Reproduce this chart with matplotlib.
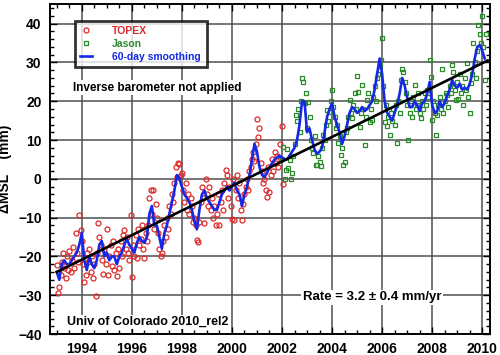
import numpy as np
import matplotlib
matplotlib.use("Agg")
import matplotlib.pyplot as plt
from matplotlib.ticker import MultipleLocator

# TOPEX samples, every 0.05 yr from 1993.0
topex_start = 1993.0
topex_step = 0.05
topex_mm = [
    -22.2, -29.5, -28, -24.8, -21.4, -19.2, -23, -25.5, -20, -23.5,
    -18.5, -24, -21, -17.5, -23, -14, -19, -21.5, -9.4, -13.2,
    -16, -22, -26.5, -24.8, -19, -21.5, -18, -24, -20, -25.5,
    -22, -30.3, -19, -11.5, -15, -17, -21, -24.4, -18, -22,
    -12.8, -24.8, -20, -17, -22.5, -16, -23.5, -19, -25, -18,
    -23, -16, -20, -14.5, -13.2, -18, -15, -19, -21, -9.4,
    -25.2, -17, -20, -14.5, -20.5, -13, -17, -15.5, -12, -18,
    -20.5, -14, -16, -12, -5, -3, -9, -3, -13, -6.4,
    -10, -14, -18, -20, -19, -16, -12, -15, -10, -13,
    -7, -9, -4, -6, -1, 3, 0.5, 4, 3.9, 1,
    1.5, -3, -6, -1, -8, -4, -9, -5, -7, -11,
    -10, -12, -15.8, -16.2, -11, -6, -2, -5, -11.5, 0,
    -4, -7, -2, -8, -5, -10, -7, -12, -9, -4,
    -12, -6, -3, -8, -1, 2.2, 0.9, -5, -2, -7,
    -10.3, 0, -10.7, -3, 1, -5, -1, -8, -10.7, -6.4,
    -4, -2, 0, -3, 2, 3, 5, 7, 4.7, 9,
    15.5, 10.7, 13, 4, 2, -1, 0, -3, -4.7, 3,
    -3.5, 1, 5, 2, 7, 4, 6, 3, 9, 5,
    13.5, -1.3,
]

# Jason samples, every 0.05 yr from 2002.0
jason_start = 2002.0
jason_step = 0.05
jason_mm = [
    5, 8.3, 0, 2.3, 7.7, 2.7, 4.9, 0, 1.5, 6,
    9, 16.5, 15, 18, 12, 20, 26, 25, 19.5, 22,
    13, 19.7, 16, 10, 8, 6.6, 11, 3.5, 3.6, 6,
    4.4, 3.4, 8, 11.3, 10, 14, 17.7, 15, 17.3, 20,
    23, 18.6, 16, 13, 14, 9.2, 11, 6.2, 7.9, 3.6,
    4.3, 12, 13, 16, 20.3, 17, 15.6, 19, 22, 18,
    26.5, 22.5, 13.4, 17, 24.2, 18, 8.7, 16, 20.3, 22.2,
    14.7, 18, 15.2, 21, 23.9, 20, 25.9, 27, 29, 30.6,
    36.2, 24, 14.7, 19, 13.5, 16, 11.3, 17, 15, 18,
    14, 19, 9.2, 20, 16.9, 25.5, 28.4, 27.6, 25, 22,
    19, 10, 17, 20, 16, 21, 24.2, 18, 19, 22,
    16.9, 15.6, 20, 18, 22, 19, 23, 21, 30.6, 26.3,
    15.2, 20, 17, 11.3, 16.5, 19, 21, 18, 28.2, 17,
    20, 22, 21.6, 18.6, 24, 22, 29.3, 27.6, 23, 20.3,
    25, 20.7, 27, 22, 24, 19, 26, 23, 29.9, 21.2,
    17, 24.6, 27, 34.9, 30, 25.9, 33, 39.6, 37.4, 35,
    41.9, 34, 25.5, 37.4,
]

# 60-day smoothed curve, every 0.1 yr from 1993.0
smooth_start = 1993.0
smooth_step = 0.1
smooth_mm = [
    -24, -26, -22, -21, -22, -22, -21, -20, -19, -17,
    -14, -21, -23.5, -20, -22, -23, -21, -17, -16, -20,
    -19, -21, -20, -20, -22, -20, -19, -17, -15.5, -17,
    -18, -19, -16.5, -15, -16, -16.5, -15, -9, -7, -12,
    -12, -15, -18, -14, -12, -9, -6, -3, 1, 0,
    -2, -4, -5, -6, -8, -11, -13, -8, -4, -3,
    -5, -6, -7, -8, -8, -6, -4, -3, -2, -3,
    -2, -1, -3, -4, -7, -4, -2, 1, 5, 9,
    7, 3, 1, 0.5, 1.5, 3, 4, 5, 5.5, 6,
    5.5, 5, 5, 6, 7, 8, 10, 14, 20, 20,
    12, 13, 10, 7.5, 6.5, 7, 8, 12, 16, 18,
    19.5, 16, 14, 12, 9, 11, 14, 17, 18.5, 18,
    17, 17.5, 18.5, 17.5, 18, 19, 20, 23, 27, 31,
    27, 20, 17, 16, 15, 17, 19, 22, 26, 24,
    21, 18.5, 18.5, 20, 19, 17.5, 19.5, 20, 22, 25,
    19, 17, 17.5, 20, 18.5, 19.5, 21.5, 23, 25.5, 24,
    23.5, 24.5, 23, 23.5, 23, 24.5, 27, 31, 34, 34.5,
    33, 31,
]

# linear trend end points
trend_years = [1993.0, 2010.22]
trend_mm = [-24.0, 30.5]

year_ticks = [1994, 1996, 1998, 2000, 2002, 2004, 2006, 2008, 2010]

plt.rcParams['font.family'] = ['Liberation Sans', 'DejaVu Sans']
plt.rcParams['font.weight'] = 'bold'

fig = plt.figure(figsize=(5.0, 3.55), dpi=100)
ax = fig.add_axes([0.10, 0.059, 0.88, 0.929])

t_topex = topex_start + topex_step * np.arange(len(topex_mm))
t_jason = jason_start + jason_step * np.arange(len(jason_mm))
t_smooth = smooth_start + smooth_step * np.arange(len(smooth_mm))

ax.plot(t_topex, topex_mm, 'o', ms=3.6, mfc='none', mec='#dd2a2a', mew=0.9,
        label='TOPEX', zorder=3)
ax.plot(t_jason, jason_mm, 's', ms=3.3, mfc='none', mec='#2a8a2a', mew=0.9,
        label='Jason', zorder=3)
ax.plot(t_smooth, smooth_mm, '-', color='#1428e6', lw=1.9,
        label='60-day smoothing', zorder=4)
ax.plot(trend_years, trend_mm, '-', color='black', lw=1.9, zorder=5)

ax.set_xlim(1992.73, 2010.31)
ax.set_ylim(-40, 45)
ax.set_xticks(year_ticks)
ax.set_yticks(np.arange(-40, 41, 10))
ax.xaxis.set_minor_locator(MultipleLocator(0.5))
ax.yaxis.set_minor_locator(MultipleLocator(2))
ax.tick_params(which='both', direction='in', top=True, right=True,
               labelsize=10, width=1.0, color='black')
ax.tick_params(which='major', length=5, pad=6)
ax.tick_params(which='minor', length=3)
ax.grid(True, which='major', color='#505050', lw=1.1)
ax.set_axisbelow(True)
for s in ax.spines.values():
    s.set_linewidth(1.4)

ax.set_ylabel('ΔMSL    (mm)', fontsize=10, fontweight='bold', labelpad=4)

leg = ax.legend(loc='upper left', bbox_to_anchor=(0.057, 0.807, 0.30, 0.142),
                mode='expand', fontsize=7.5, frameon=True, fancybox=False,
                handlelength=1.2, handletextpad=1.9, labelspacing=0.3,
                borderpad=0.45, borderaxespad=0.0)
leg.get_frame().set_edgecolor('black')
leg.get_frame().set_linewidth(2.0)
for txt, col in zip(leg.get_texts(), ['#dd2a2a', '#2a8a2a', '#1428e6']):
    txt.set_color(col)
    txt.set_fontweight('bold')

box = dict(facecolor='white', edgecolor='none', pad=1.0)
ax.text(1997.0, 23.5, 'Inverse barometer not applied', ha='center', va='center',
        fontsize=8.5, fontweight='bold', bbox=box, zorder=6)
ax.text(1993.41, -36.9, 'Univ of Colorado 2010_rel2', ha='left', va='center',
        fontsize=9, fontweight='bold', bbox=box, zorder=6)
ax.text(2005.6, -30.5, 'Rate = 3.2 ± 0.4 mm/yr', ha='center', va='center',
        fontsize=9.5, fontweight='bold', bbox=box, zorder=6)

fig.savefig('out.png', dpi=100)
